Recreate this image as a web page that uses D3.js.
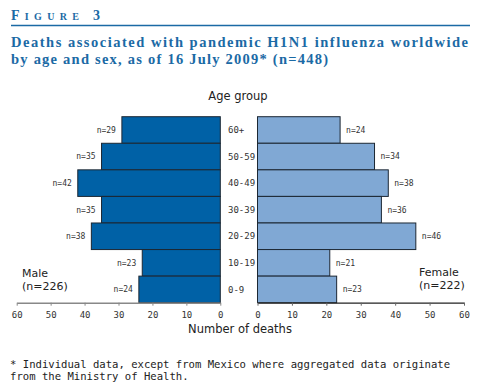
<!DOCTYPE html>
<html>
<head>
<meta charset="utf-8">
<script src="https://cdn.jsdelivr.net/npm/d3@7"></script>
<style>
  html, body { margin: 0; padding: 0; background: #fff; }
  svg { display: block; }
</style>
</head>
<body>
<div id="chart"></div>
<script>
// Age groups, top to bottom
const ageGroups = ['60+', '50-59', '40-49', '30-39', '20-29', '10-19', '0-9'];
const maleDeaths = [29, 35, 42, 35, 38, 23, 24];
const femaleDeaths = [24, 34, 38, 36, 46, 21, 23];
const axisTicks = [0, 10, 20, 30, 40, 50, 60];

const W = 500, H = 387;
const blue = '#1b6aa5';

const svg = d3.select('#chart').append('svg')
    .attr('width', W)
    .attr('height', H);

// Header: "Figure 3" in spaced small caps
svg.append('text')
    .attr('x', 11).attr('y', 20)
    .attr('font-family', 'Liberation Serif, serif')
    .attr('font-weight', 'bold')
    .attr('fill', blue)
    .attr('letter-spacing', '5.3px')
    .selectAll('tspan')
    .data([['F', 14], ['IGURE', 10], [' 3', 14]])
    .join('tspan')
      .attr('font-size', d => d[1] + 'px')
      .text(d => d[0]);

svg.append('line')
    .attr('x1', 11).attr('x2', 470)
    .attr('y1', 25.5).attr('y2', 25.5)
    .attr('stroke', blue).attr('stroke-width', 1.5);

const title = svg.append('text')
    .attr('font-family', 'Liberation Serif, serif')
    .attr('font-weight', 'bold')
    .attr('font-size', '14.5px')
    .attr('fill', blue)
    .attr('lengthAdjust', 'spacing');
title.append('tspan').attr('x', 11).attr('y', 46.5)
    .attr('textLength', 457)
    .text('Deaths associated with pandemic H1N1 influenza worldwide');
title.append('tspan').attr('x', 11).attr('y', 63.5)
    .attr('textLength', 317)
    .text('by age and sex, as of 16 July 2009* (n=448)');

// Scales
const y = d3.scaleBand().domain(ageGroups).range([116.7, 302.7]).padding(0);
const xMale = d3.scaleLinear().domain([0, 60]).range([220.3, 16.7]);
const xFemale = d3.scaleLinear().domain([0, 60]).range([257.5, 464]);

const labelFont = 'DejaVu Sans, sans-serif';
const monoFont = 'DejaVu Sans Mono, monospace';

const rows = ageGroups.map((g, i) => ({ group: g, male: maleDeaths[i], female: femaleDeaths[i] }));

// Male bars
svg.append('g')
  .selectAll('rect')
  .data(rows)
  .join('rect')
    .attr('x', d => xMale(d.male))
    .attr('y', d => y(d.group))
    .attr('width', d => xMale(0) - xMale(d.male))
    .attr('height', y.bandwidth())
    .attr('fill', '#0061a6')
    .attr('stroke', '#1c2733')
    .attr('stroke-width', 1);

// Female bars
svg.append('g')
  .selectAll('rect')
  .data(rows)
  .join('rect')
    .attr('x', xFemale(0))
    .attr('y', d => y(d.group))
    .attr('width', d => xFemale(d.female) - xFemale(0))
    .attr('height', y.bandwidth())
    .attr('fill', '#80a8d4')
    .attr('stroke', '#1c2733')
    .attr('stroke-width', 1);

// n labels
svg.append('g')
    .attr('font-family', monoFont)
    .attr('font-size', '8px')
    .attr('fill', '#333')
  .selectAll('text')
  .data(rows)
  .join('text')
    .attr('x', d => xMale(d.male) - 6)
    .attr('y', d => y(d.group) + y.bandwidth() / 2)
    .attr('dy', '0.35em')
    .attr('text-anchor', 'end')
    .text(d => 'n=' + d.male);

svg.append('g')
    .attr('font-family', monoFont)
    .attr('font-size', '8px')
    .attr('fill', '#333')
  .selectAll('text')
  .data(rows)
  .join('text')
    .attr('x', d => xFemale(d.female) + 6)
    .attr('y', d => y(d.group) + y.bandwidth() / 2)
    .attr('dy', '0.35em')
    .text(d => 'n=' + d.female);

// Age group labels
svg.append('g')
    .attr('font-family', monoFont)
    .attr('font-size', '9px')
    .attr('fill', '#333')
  .selectAll('text')
  .data(ageGroups)
  .join('text')
    .attr('x', 228)
    .attr('y', d => y(d) + y.bandwidth() / 2)
    .attr('dy', '0.35em')
    .text(d => d);

svg.append('text')
    .attr('x', 238).attr('y', 100)
    .attr('text-anchor', 'middle')
    .attr('font-family', labelFont)
    .attr('font-size', '11.5px')
    .attr('fill', '#222')
    .text('Age group');

// Axes
const axisY = 302.7;
const maleAxis = svg.append('g')
    .attr('transform', `translate(0,${axisY})`)
    .call(d3.axisBottom(xMale).tickValues(axisTicks).tickSize(3).tickSizeOuter(0));
const femaleAxis = svg.append('g')
    .attr('transform', `translate(0,${axisY})`)
    .call(d3.axisBottom(xFemale).tickValues(axisTicks).tickSize(3).tickSizeOuter(0));

maleAxis.select('.domain').attr('stroke', '#888').attr('stroke-width', 1.5);
maleAxis.selectAll('.tick line').attr('stroke', '#888');
femaleAxis.select('.domain').attr('stroke', '#222').attr('stroke-width', 1.2);
femaleAxis.selectAll('.tick line').attr('stroke', '#666');
[maleAxis, femaleAxis].forEach(a => {
  a.attr('font-family', monoFont).attr('font-size', '9px');
  a.selectAll('.tick text').attr('fill', '#333').attr('y', 9);
});

svg.append('text')
    .attr('x', 240).attr('y', 333)
    .attr('text-anchor', 'middle')
    .attr('font-family', labelFont)
    .attr('font-size', '11.5px')
    .attr('fill', '#222')
    .text('Number of deaths');

// Sex labels
const sexLabel = (x, lines, y0) => {
  svg.append('text')
      .attr('font-family', labelFont)
      .attr('font-size', '11px')
      .attr('fill', '#222')
    .selectAll('tspan')
    .data(lines)
    .join('tspan')
      .attr('x', x)
      .attr('y', (d, i) => y0 + i * 13)
      .text(d => d);
};
sexLabel(22, ['Male', '(n=226)'], 277);
sexLabel(419, ['Female', '(n=222)'], 276);

// Footnote
const foot = svg.append('text')
    .attr('font-family', monoFont)
    .attr('font-size', '10.6px')
    .attr('fill', '#222');
foot.append('tspan').attr('x', 10).attr('y', 368)
    .text('* Individual data, except from Mexico where aggregated data originate');
foot.append('tspan').attr('x', 10).attr('y', 380)
    .text('from the Ministry of Health.');
</script>
</body>
</html>
